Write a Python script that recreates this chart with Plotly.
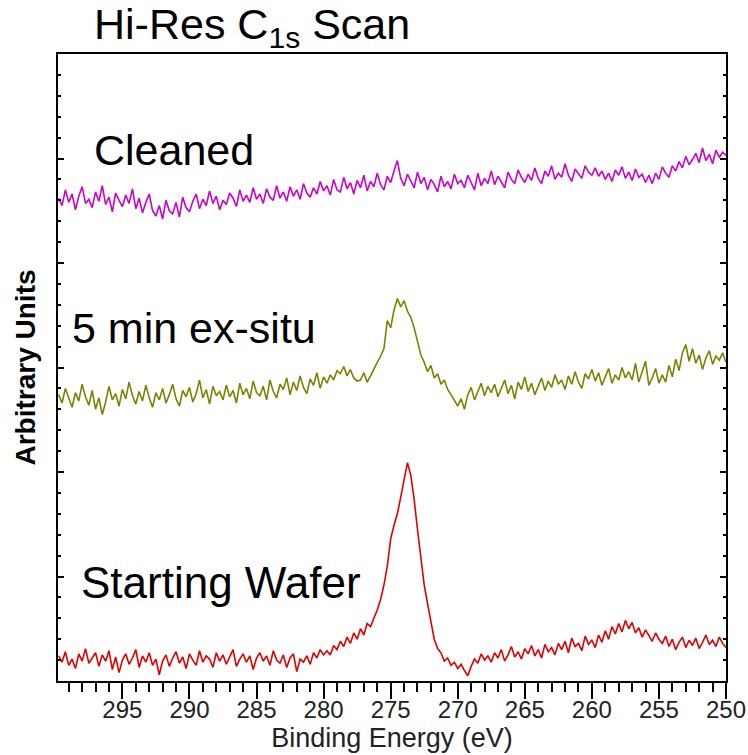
import numpy as np
import plotly.graph_objects as go

# Binding-energy grid of the high-resolution C 1s scan (eV, 0.25 eV steps)
energy = np.linspace(299.75, 250.0, 200)

# Intensities (arbitrary units, traces offset vertically)
starting_wafer = [
    0.24, 0.18, 0.28, 0.15, 0.21, 0.12, 0.26, 0.19, 0.31, 0.17,
    0.22, 0.27, 0.14, 0.25, 0.19, 0.29, 0.11, 0.23, 0.08, 0.20,
    0.26, 0.16, 0.22, 0.30, 0.13, 0.24, 0.18, 0.27, 0.15, 0.21,
    0.06, 0.19, 0.25, 0.14, 0.22, 0.28, 0.17, 0.23, 0.12, 0.26,
    0.20, 0.15, 0.29, 0.18, 0.24, 0.21, 0.13, 0.27, 0.19, 0.25,
    0.16, 0.23, 0.30, 0.14, 0.21, 0.26, 0.18, 0.24, 0.11, 0.22,
    0.27, 0.19, 0.24, 0.15, 0.29, 0.20, 0.17, 0.25, 0.13, 0.22,
    0.26, 0.09, 0.21, 0.18, 0.24, 0.16, 0.27, 0.22, 0.30, 0.25,
    0.29, 0.25, 0.34, 0.30, 0.38, 0.33, 0.42, 0.36, 0.46, 0.40,
    0.50, 0.44, 0.55, 0.52, 0.60, 0.68, 0.78, 0.92, 1.10, 1.36,
    1.49, 1.60, 1.76, 1.93, 2.09, 1.97, 1.74, 1.45, 1.20, 0.92,
    0.74, 0.55, 0.40, 0.31, 0.27, 0.19, 0.22, 0.15, 0.18, 0.12,
    0.16, 0.10, 0.05, 0.14, 0.21, 0.17, 0.26, 0.20, 0.24, 0.18,
    0.27, 0.22, 0.30, 0.19, 0.25, 0.33, 0.23, 0.28, 0.21, 0.31,
    0.26, 0.34, 0.24, 0.30, 0.22, 0.35, 0.28, 0.32, 0.25, 0.36,
    0.30, 0.38, 0.27, 0.41, 0.33, 0.36, 0.29, 0.43, 0.35, 0.39,
    0.32, 0.44, 0.37, 0.48, 0.40, 0.52, 0.45, 0.55, 0.47, 0.58,
    0.50, 0.56, 0.46, 0.51, 0.42, 0.49, 0.44, 0.38, 0.46, 0.40,
    0.36, 0.43, 0.33, 0.40, 0.30, 0.37, 0.42, 0.32, 0.39, 0.34,
    0.41, 0.31, 0.37, 0.44, 0.35, 0.39, 0.33, 0.42, 0.36, 0.32,
]

ex_situ_5min = [
    2.74, 2.66, 2.80, 2.70, 2.62, 2.76, 2.68, 2.84, 2.72, 2.64,
    2.78, 2.60, 2.71, 2.55, 2.67, 2.82, 2.69, 2.75, 2.63, 2.79,
    2.70, 2.86, 2.73, 2.65, 2.77, 2.68, 2.83, 2.71, 2.62, 2.76,
    2.69, 2.80, 2.66, 2.74, 2.84, 2.70, 2.63, 2.78, 2.72, 2.81,
    2.67, 2.75, 2.88, 2.71, 2.79, 2.65, 2.82, 2.73, 2.77, 2.69,
    2.83, 2.72, 2.78, 2.66, 2.85, 2.74, 2.80, 2.70, 2.87, 2.76,
    2.73, 2.82, 2.69, 2.88, 2.77, 2.71, 2.84, 2.79, 2.90, 2.74,
    2.86, 2.78, 2.92, 2.81, 2.75, 2.89, 2.83, 2.95, 2.80, 2.91,
    2.85, 2.93, 2.88, 2.97, 2.94, 3.01, 2.92, 2.98, 2.90, 2.87,
    2.88, 2.95, 2.86, 2.92, 2.99, 3.05, 3.11, 3.18, 3.45, 3.38,
    3.55, 3.66, 3.58, 3.64, 3.54, 3.48, 3.38, 3.24, 3.12, 3.05,
    2.96, 3.02, 2.90, 2.94, 2.84, 2.88, 2.79, 2.74, 2.68, 2.63,
    2.70, 2.60, 2.74, 2.81, 2.69, 2.78, 2.85, 2.73, 2.82, 2.76,
    2.84, 2.72, 2.80, 2.88, 2.75, 2.83, 2.70, 2.86, 2.79, 2.91,
    2.77, 2.85, 2.74, 2.82, 2.90, 2.78, 2.87, 2.81, 2.93, 2.84,
    2.88, 2.79, 2.92, 2.84, 2.96, 2.86, 2.80, 2.94, 2.89, 2.98,
    2.87, 2.95, 2.83, 2.91, 2.99, 2.85, 2.93, 2.88, 3.00, 2.90,
    2.96, 2.88, 3.04, 2.86, 2.95, 3.06, 2.83, 2.90, 2.99, 2.85,
    2.93, 2.86, 3.02, 2.91, 3.08, 2.97, 3.14, 3.22, 3.06, 3.18,
    3.04, 3.12, 2.98, 3.09, 3.16, 3.03, 3.11, 3.07, 3.14, 3.05,
]

cleaned = [
    4.62, 4.55, 4.70, 4.58, 4.66, 4.51, 4.64, 4.73, 4.57, 4.61,
    4.53, 4.68, 4.59, 4.74, 4.56, 4.63, 4.49, 4.67, 4.60, 4.54,
    4.65, 4.57, 4.71, 4.52, 4.62, 4.48, 4.58, 4.66, 4.50, 4.45,
    4.55, 4.42, 4.60, 4.50, 4.47, 4.58, 4.44, 4.63, 4.53, 4.49,
    4.59, 4.66, 4.52, 4.61, 4.55, 4.69, 4.57, 4.64, 4.51, 4.60,
    4.56, 4.67, 4.62, 4.54, 4.70, 4.59, 4.65, 4.58, 4.72, 4.61,
    4.66, 4.57, 4.71, 4.63, 4.60, 4.74, 4.62, 4.68, 4.59, 4.73,
    4.64, 4.70, 4.61, 4.76, 4.67, 4.63, 4.72, 4.66, 4.78, 4.69,
    4.74, 4.65, 4.80, 4.70, 4.68, 4.82, 4.71, 4.77, 4.66, 4.79,
    4.72, 4.84, 4.69, 4.78, 4.73, 4.86, 4.75, 4.70, 4.83, 4.77,
    4.88, 4.98, 4.81, 4.74, 4.85, 4.79, 4.72, 4.87, 4.76, 4.82,
    4.70, 4.80, 4.75, 4.68, 4.83, 4.73, 4.78, 4.71, 4.85, 4.76,
    4.79, 4.72, 4.84, 4.77, 4.70, 4.86, 4.74, 4.81, 4.76, 4.88,
    4.75, 4.83, 4.78, 4.72, 4.87, 4.80, 4.76, 4.89, 4.82, 4.77,
    4.85, 4.79, 4.91, 4.81, 4.76, 4.88, 4.83, 4.93, 4.80, 4.86,
    4.82, 4.95, 4.84, 4.78, 4.90, 4.86, 4.81, 4.93, 4.87, 4.84,
    4.91, 4.83, 4.88, 4.80, 4.86, 4.78, 4.89, 4.84, 4.92, 4.81,
    4.87, 4.79, 4.90, 4.82, 4.85, 4.77, 4.84, 4.76, 4.86, 4.80,
    4.92, 4.86, 4.82, 4.93, 4.88, 4.97, 4.91, 5.02, 4.94, 4.99,
    5.05, 4.96, 5.10, 4.98, 5.04, 4.95, 5.08, 5.01, 5.06, 5.03,
]

series_names = ["Starting Wafer", "5 min ex-situ", "Cleaned"]
series_values = [starting_wafer, ex_situ_5min, cleaned]
series_colors = ["#E00000", "#808000", "#CC00CC"]

# Text labels placed above each trace: (eV, intensity)
label_positions = [(298.2, 0.94), (298.9, 3.38), (297.3, 5.08)]
label_sizes = [44, 43, 43]

FONT = "Arial, Liberation Sans, sans-serif"

fig = go.Figure()
for name, vals, col in zip(series_names, series_values, series_colors):
    fig.add_trace(go.Scatter(
        x=energy, y=vals, mode="lines", name=name,
        line=dict(color=col, width=1.6), showlegend=False,
    ))

for name, (ex, ey), fs in zip(series_names, label_positions, label_sizes):
    fig.add_annotation(
        x=ex, y=ey, xref="x", yref="y", text=name, showarrow=False,
        xanchor="left", yanchor="middle",
        font=dict(family=FONT, size=fs, color="black"),
    )

# Heading above the plot frame
fig.add_annotation(
    x=(92 - 58) / (726 - 58), y=1 + (54 - 27) / (681 - 54),
    xref="paper", yref="paper", text="Hi-Res C<sub>1s</sub> Scan",
    showarrow=False, xanchor="left", yanchor="middle",
    font=dict(family=FONT, size=43, color="black"),
)

fig.update_xaxes(
    range=[299.8, 250.0],
    tick0=250, dtick=5,
    ticks="outside", ticklen=16, tickwidth=1.5, tickcolor="black",
    ticklabelstandoff=-10,
    minor=dict(dtick=1, ticks="outside", ticklen=9, tickwidth=1.5, tickcolor="black"),
    showline=True, linecolor="black", linewidth=2, mirror=True,
    showgrid=False, zeroline=False,
    tickfont=dict(family=FONT, size=24, color="#222"),
    title=dict(text="Binding Energy (eV)", font=dict(family=FONT, size=27, color="#222"),
               standoff=4),
)
fig.update_yaxes(
    range=[0, 6], tick0=0, dtick=1,
    ticks="inside", ticklen=6, tickwidth=1.5, tickcolor="black",
    minor=dict(dtick=0.2, ticks="inside", ticklen=3, tickwidth=1.5, tickcolor="black"),
    showline=True, linecolor="black", linewidth=2, mirror="allticks",
    showticklabels=False, showgrid=False, zeroline=False,
    title=dict(text="<b>Arbitrary Units</b>", font=dict(family=FONT, size=28, color="black"),
               standoff=12),
)

fig.update_layout(
    width=748, height=755,
    margin=dict(l=58, r=22, t=54, b=74, autoexpand=False),
    paper_bgcolor="white", plot_bgcolor="white",
)

fig.write_html("out.html")
